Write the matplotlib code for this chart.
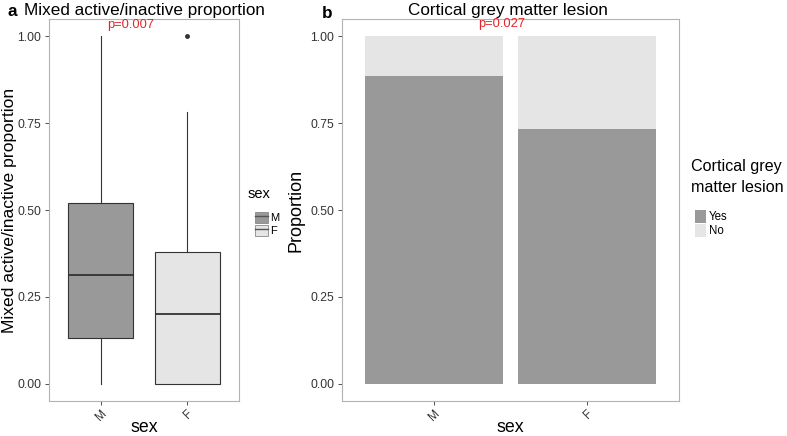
import numpy as np
import matplotlib.pyplot as plt
from matplotlib.patches import Patch
from matplotlib.lines import Line2D

plt.rcParams['font.family'] = ['Liberation Sans', 'DejaVu Sans']

# panel a: box stats per sex
sex = ['M', 'F']
box_low = [0.0, 0.0]
box_q1 = [0.13, 0.0]
box_med = [0.314, 0.20]
box_q3 = [0.52, 0.378]
box_high = [1.0, 0.782]
box_outliers = [[], [1.0]]
box_fill = ['#999999', '#e5e5e5']

# panel b: proportion of cortical grey matter lesion
lesion_yes = [0.887, 0.734]
lesion_no = [1 - v for v in lesion_yes]

p_a = 'p=0.007'
p_b = 'p=0.027'
yticks = [0.0, 0.25, 0.5, 0.75, 1.0]
ytick_labels = ['0.00', '0.25', '0.50', '0.75', '1.00']

border = '#b3b3b3'
dark = '#333333'
red = '#e3262a'

fig = plt.figure(figsize=(7.87, 4.36), dpi=100)
ax1 = fig.add_axes([49/787, 1-401/436, 190/787, 382/436])
ax2 = fig.add_axes([341.7/787, 1-401/436, 337.3/787, 382/436])

stats = []
for i in range(len(sex)):
    stats.append({'whislo': box_low[i], 'q1': box_q1[i], 'med': box_med[i],
                  'q3': box_q3[i], 'whishi': box_high[i], 'fliers': box_outliers[i]})
bp = ax1.bxp(stats, positions=[1, 2], widths=0.75, patch_artist=True, showcaps=False,
             boxprops=dict(edgecolor=dark, linewidth=0.8),
             whiskerprops=dict(color=dark, linewidth=0.8),
             medianprops=dict(color=dark, linewidth=1.3),
             flierprops=dict(marker='o', markersize=2.5, markerfacecolor=dark, markeredgecolor=dark))
for patch, c in zip(bp['boxes'], box_fill):
    patch.set_facecolor(c)
ax1.text(1.35, 1.034, p_a, color=red, ha='center', va='center', fontsize=9.3)
ax1.set_ylabel('Mixed active/inactive proportion', fontsize=12.6, labelpad=0)

x = np.arange(1, len(sex) + 1)
ax2.bar(x, lesion_yes, width=0.9, color='#999999')
ax2.bar(x, lesion_no, width=0.9, bottom=lesion_yes, color='#e5e5e5')
ax2.text(1.444, 1.035, p_b, color=red, ha='center', va='center', fontsize=9.3)
ax2.set_ylabel('Proportion', fontsize=13, labelpad=4)

for ax in (ax1, ax2):
    ax.set_xlim(0.4, 2.6)
    ax.set_ylim(-0.05, 1.05)
    ax.set_xticks([1, 2])
    ax.set_xticklabels(sex, rotation=45, ha='right', rotation_mode='anchor', fontsize=8.7, color='#333333')
    ax.set_yticks(yticks)
    ax.set_yticklabels(ytick_labels, fontsize=8.7, color='#333333')
    ax.tick_params(length=3, color='#333333', width=0.6)
    ax.tick_params(axis='y', pad=2.5)
    ax.tick_params(axis='x', pad=1.5)
    ax.set_xlabel('sex', fontsize=12.8, labelpad=-2.5)
    for s in ax.spines.values():
        s.set_color(border)
        s.set_linewidth(0.8)

fig.text(24/787, 1-11/436, 'Mixed active/inactive proportion', fontsize=12.3, va='center', ha='left')
fig.text(7/787, 1-12/436, 'a', fontsize=12.3, fontweight='bold', va='center', ha='left')
fig.text(508/787, 1-10/436, 'Cortical grey matter lesion', fontsize=12.3, va='center', ha='center')
fig.text(322/787, 1-13/436, 'b', fontsize=12.3, fontweight='bold', va='center', ha='left')

# legend a
fig.text(248/787, 1-194/436, 'sex', fontsize=10.5, va='center', ha='left')
h1 = [(Patch(facecolor=c, edgecolor='#888888', linewidth=0.6), Line2D([], [], color='#555555', lw=1.0))
      for c in box_fill]
fig.legend(h1, sex, loc='upper left', bbox_to_anchor=(249/787, 1-206/436),
           frameon=False, fontsize=8, handlelength=1.2, handleheight=1.2,
           handletextpad=0.2, labelspacing=0.15, borderpad=0)

# legend b
fig.text(691/787, 1-167/436, 'Cortical grey', fontsize=11.6, va='center', ha='left')
fig.text(691/787, 1-187/436, 'matter lesion', fontsize=11.6, va='center', ha='left')
h2 = [Patch(facecolor='#999999'), Patch(facecolor='#e5e5e5')]
fig.legend(h2, ['Yes', 'No'], loc='upper left', bbox_to_anchor=(689/787, 1-204/436),
           frameon=False, fontsize=8.3, handlelength=1.0, handleheight=1.4,
           handletextpad=0.2, labelspacing=0.05, borderpad=0)

fig.savefig('out.png', dpi=100)
